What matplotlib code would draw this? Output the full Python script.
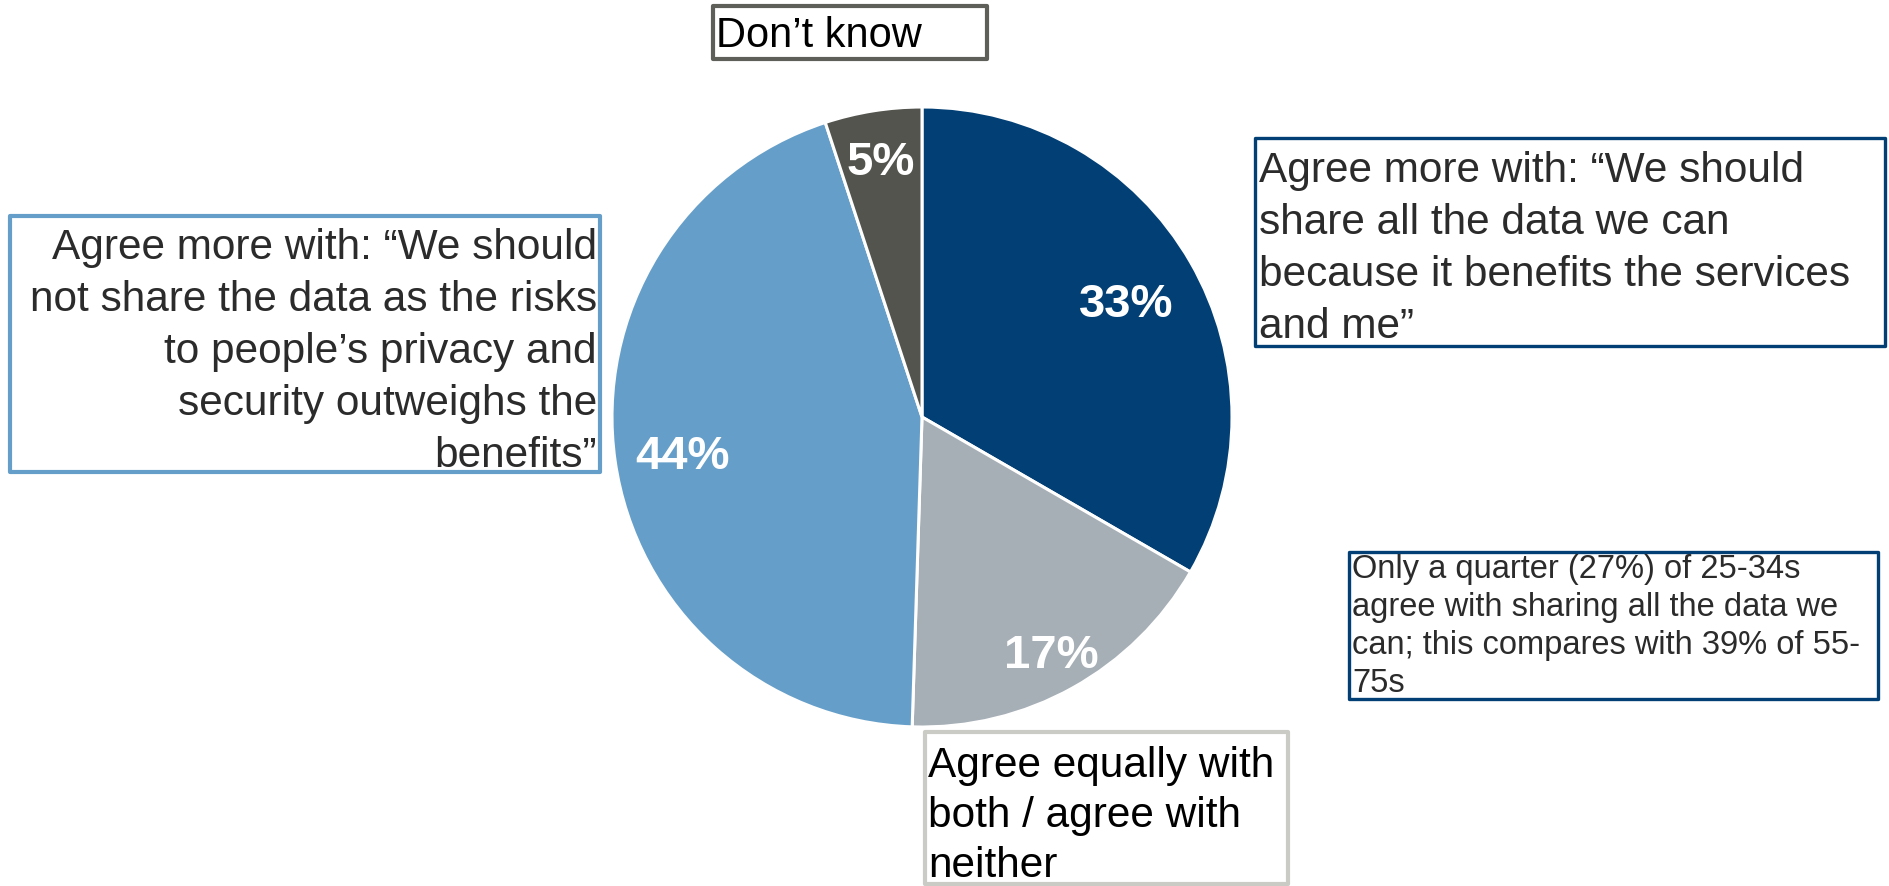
import matplotlib
matplotlib.use("Agg")
import matplotlib.pyplot as plt
from matplotlib.patches import Rectangle
from matplotlib.transforms import offset_copy
import numpy as np

# ---- data -------------------------------------------------------------
shares = [33, 17, 44, 5]
pct_labels = ["33%", "17%", "44%", "5%"]
slice_colors = ["#023F75", "#A6AEB6", "#659FC9", "#54544E"]

label_share = "Agree more with: “We should\nshare all the data we can\nbecause it benefits the services\nand me”"
label_equal = "Agree equally with\nboth / agree with\nneither"
label_noshare = ("Agree more with: “We should\nnot share the data as the risks\n"
                 "to people’s privacy and\nsecurity outweighs the\nbenefits”")
label_dk = "Don’t know"
note_text = ("Only a quarter (27%) of 25-34s\nagree with sharing all the data we\n"
             "can; this compares with 39% of 55-\n75s")

# ---- canvas in pixel units --------------------------------------------
W, H, DPI = 1889, 886, 100
fig = plt.figure(figsize=(W / DPI, H / DPI), dpi=DPI)
fig.patch.set_facecolor("white")
FONT = "Liberation Sans"


def fx(x):
    return x / W


def fy(y):
    return 1 - y / H


def box(x0, y0, x1, y1, color, lw):
    fig.add_artist(Rectangle((fx(x0), fy(y1)), (x1 - x0) / W, (y1 - y0) / H,
                             transform=fig.transFigure, fill=False,
                             edgecolor=color, linewidth=lw, joinstyle="round"))


def block(text, x, base, step, ha, size, color):
    for i, line in enumerate(text.split("\n")):
        fig.text(fx(x), fy(base + i * step), line, ha=ha, va="baseline",
                 fontsize=size, family=FONT, color=color)


# ---- pie --------------------------------------------------------------
cx, cy, R = 922, 417, 310
ax = fig.add_axes([fx(cx - R), fy(cy + R), 2 * R / W, 2 * R / H])
wedges, _ = ax.pie(shares, colors=slice_colors, startangle=90, counterclock=False,
                   radius=1, wedgeprops=dict(edgecolor="white", linewidth=2.2))
ax.set_xlim(-1, 1)
ax.set_ylim(-1, 1)
ax.set_aspect("equal")
ax.axis("off")

label_radius = [0.76, 0.86, 0.78, 0.85]
lbl_tf = offset_copy(ax.transData, fig=fig, x=0, y=-6, units="dots")
for w, txt, r in zip(wedges, pct_labels, label_radius):
    mid = np.deg2rad((w.theta1 + w.theta2) / 2)
    ax.text(r * np.cos(mid), r * np.sin(mid), txt, ha="center", va="center",
            fontsize=34, fontweight="bold", family=FONT, color="white",
            transform=lbl_tf)

# ---- category callouts --------------------------------------------------
box(713, 6, 987, 59, "#5F5F59", 3.0)
block(label_dk, 716, 47, 0, "left", 30, "black")

box(1255, 138, 1885, 346, "#023F75", 2.4)
block(label_share, 1259, 182, 52, "left", 30.5, "#2B2B2B")

box(10, 216, 600, 472, "#659FC9", 3.0)
block(label_noshare, 597, 259, 52, "right", 30.5, "#2B2B2B")

box(925, 732, 1288, 884, "#CBCBC6", 3.0)
block(label_equal, 928, 777, 50, "left", 30.5, "black")

box(1349, 552, 1878, 699, "#023F75", 2.4)
block(note_text, 1352, 578, 38, "left", 23.5, "#2B2B2B")

fig.savefig("out.png", dpi=DPI)
